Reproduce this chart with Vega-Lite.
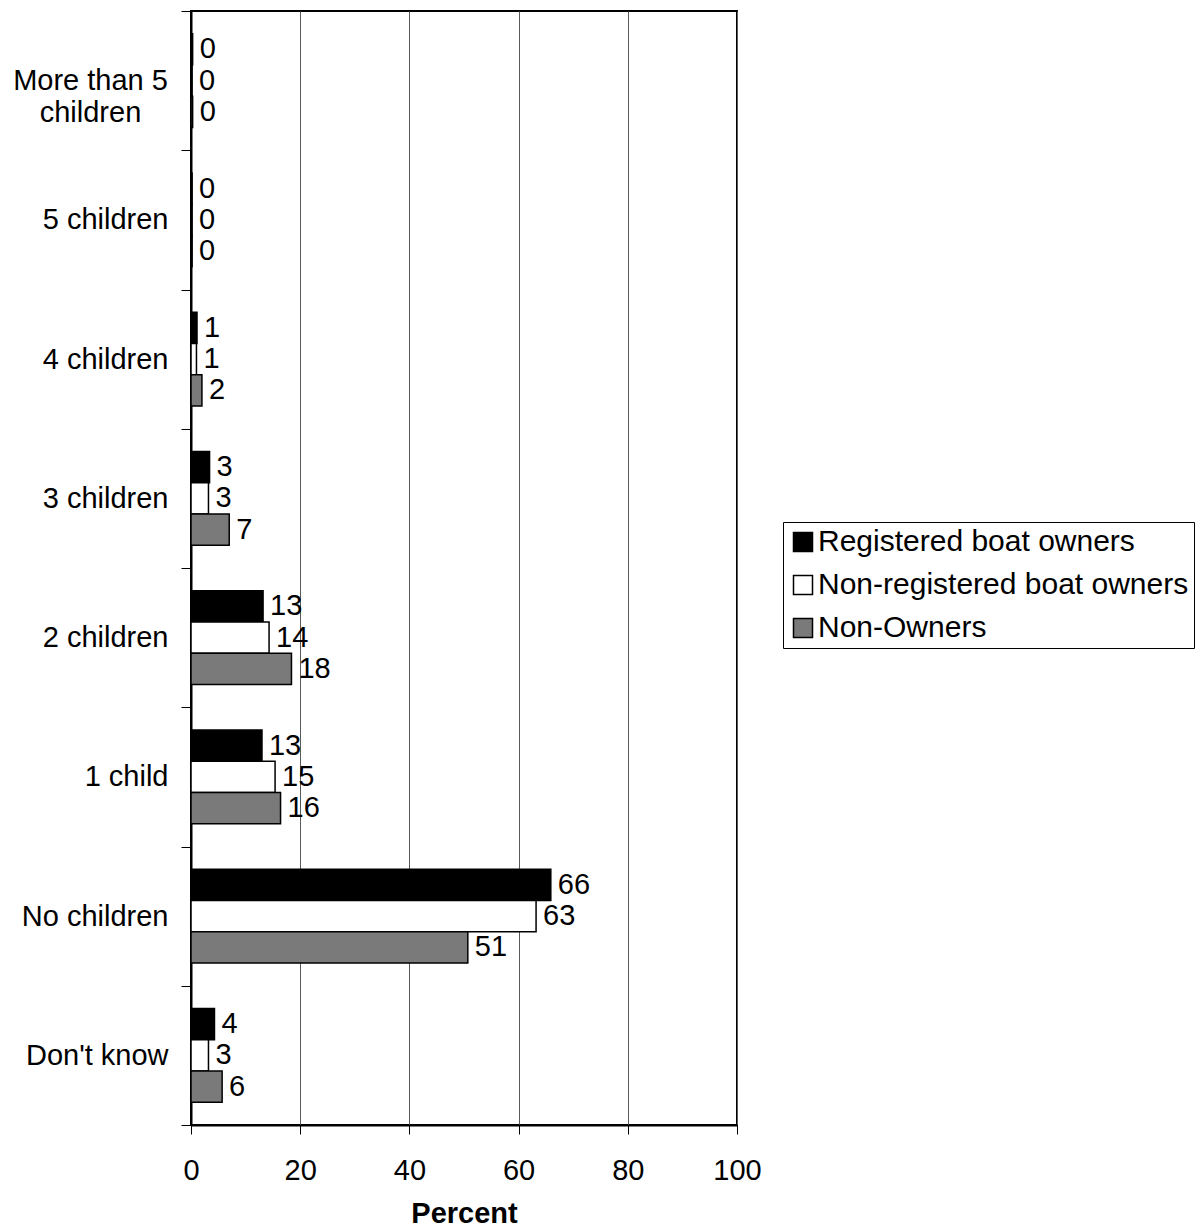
{
  "$schema": "https://vega.github.io/schema/vega-lite/v6.json",
  "autosize": {"type": "none"},
  "width": 546,
  "height": 1114,
  "padding": {"left": 191, "top": 11, "right": 461, "bottom": 103},
  "background": "white",
  "config": {
    "font": "Liberation Sans",
    "view": {"stroke": "black", "strokeWidth": 2}
  },
  "data": {
    "values": [
      {"cat": "More than 5 children", "group": "Registered boat owners", "pct": 0.3},
      {"cat": "More than 5 children", "group": "Non-registered boat owners", "pct": 0.2},
      {"cat": "More than 5 children", "group": "Non-Owners", "pct": 0.3},
      {"cat": "5 children", "group": "Registered boat owners", "pct": 0.2},
      {"cat": "5 children", "group": "Non-registered boat owners", "pct": 0.2},
      {"cat": "5 children", "group": "Non-Owners", "pct": 0.2},
      {"cat": "4 children", "group": "Registered boat owners", "pct": 1.1},
      {"cat": "4 children", "group": "Non-registered boat owners", "pct": 1.0},
      {"cat": "4 children", "group": "Non-Owners", "pct": 2.0},
      {"cat": "3 children", "group": "Registered boat owners", "pct": 3.4},
      {"cat": "3 children", "group": "Non-registered boat owners", "pct": 3.2},
      {"cat": "3 children", "group": "Non-Owners", "pct": 7.0},
      {"cat": "2 children", "group": "Registered boat owners", "pct": 13.2},
      {"cat": "2 children", "group": "Non-registered boat owners", "pct": 14.3},
      {"cat": "2 children", "group": "Non-Owners", "pct": 18.4},
      {"cat": "1 child", "group": "Registered boat owners", "pct": 13.0},
      {"cat": "1 child", "group": "Non-registered boat owners", "pct": 15.4},
      {"cat": "1 child", "group": "Non-Owners", "pct": 16.4},
      {"cat": "No children", "group": "Registered boat owners", "pct": 65.9},
      {"cat": "No children", "group": "Non-registered boat owners", "pct": 63.2},
      {"cat": "No children", "group": "Non-Owners", "pct": 50.7},
      {"cat": "Don't know", "group": "Registered boat owners", "pct": 4.3},
      {"cat": "Don't know", "group": "Non-registered boat owners", "pct": 3.2},
      {"cat": "Don't know", "group": "Non-Owners", "pct": 5.7}
    ]
  },
  "encoding": {
    "y": {
      "field": "cat",
      "type": "nominal",
      "sort": ["More than 5 children", "5 children", "4 children", "3 children", "2 children", "1 child", "No children", "Don't know"],
      "scale": {"paddingInner": 0, "paddingOuter": 0},
      "axis": {
        "title": null,
        "domain": true,
        "domainColor": "black",
        "domainWidth": 2,
        "ticks": true,
        "tickBand": "extent",
        "tickColor": "black",
        "tickSize": 10,
        "tickWidth": 1,
        "grid": false,
        "labelFontSize": 29,
        "labelColor": "black",
        "labelFont": "Liberation Sans",
        "labelLineHeight": 32,
        "labelLimit": 300,
        "labelExpr": "datum.value === 'More than 5 children' ? ['More than 5', 'children'] : datum.value",
        "labelAlign": {"condition": {"test": "datum.value === 'More than 5 children'", "value": "center"}, "value": "right"},
        "labelPadding": {"condition": {"test": "datum.value === 'More than 5 children'", "value": 91}, "value": 13}
      }
    },
    "yOffset": {
      "field": "group",
      "type": "nominal",
      "sort": ["Registered boat owners", "Non-registered boat owners", "Non-Owners"],
      "scale": {"paddingInner": 0, "paddingOuter": 0.73}
    },
    "x": {
      "field": "pct",
      "type": "quantitative",
      "scale": {"domain": [0, 100], "nice": false},
      "axis": {
        "title": "Percent",
        "titleFontSize": 29,
        "titleFontWeight": "bold",
        "titleColor": "black",
        "titleFont": "Liberation Sans",
        "titlePadding": 14,
        "values": [0, 20, 40, 60, 80, 100],
        "labelFontSize": 29,
        "labelColor": "black",
        "labelFont": "Liberation Sans",
        "labelPadding": 22,
        "labelFlush": false,
        "domainColor": "black",
        "domainWidth": 2,
        "tickColor": "black",
        "tickSize": 9,
        "grid": true,
        "gridColor": "#5a5a5a",
        "gridWidth": 1
      }
    }
  },
  "layer": [
    {
      "mark": {"type": "bar", "stroke": "black", "strokeWidth": 1.5, "cornerRadius": 0},
      "encoding": {
        "fill": {
          "field": "group",
          "type": "nominal",
          "sort": ["Registered boat owners", "Non-registered boat owners", "Non-Owners"],
          "scale": {
            "domain": ["Registered boat owners", "Non-registered boat owners", "Non-Owners"],
            "range": ["#000000", "#ffffff", "#7a7a7a"]
          },
          "legend": {
            "title": null,
            "orient": "none",
            "legendX": 592,
            "legendY": 511,
            "strokeColor": "black",
            "padding": 5,
            "symbolType": "square",
            "symbolSize": 361,
            "symbolStrokeColor": "black",
            "symbolStrokeWidth": 1.5,
            "labelFontSize": 30,
            "labelFont": "Liberation Sans",
            "labelColor": "black",
            "labelOffset": 0,
            "rowPadding": 13,
            "labelLimit": 500
          }
        }
      }
    },
    {
      "mark": {"type": "text", "align": "left", "baseline": "middle", "dx": 7, "fontSize": 29, "font": "Liberation Sans", "color": "black"},
      "encoding": {
        "text": {"field": "pct", "type": "quantitative", "format": ".0f"}
      }
    }
  ]
}
